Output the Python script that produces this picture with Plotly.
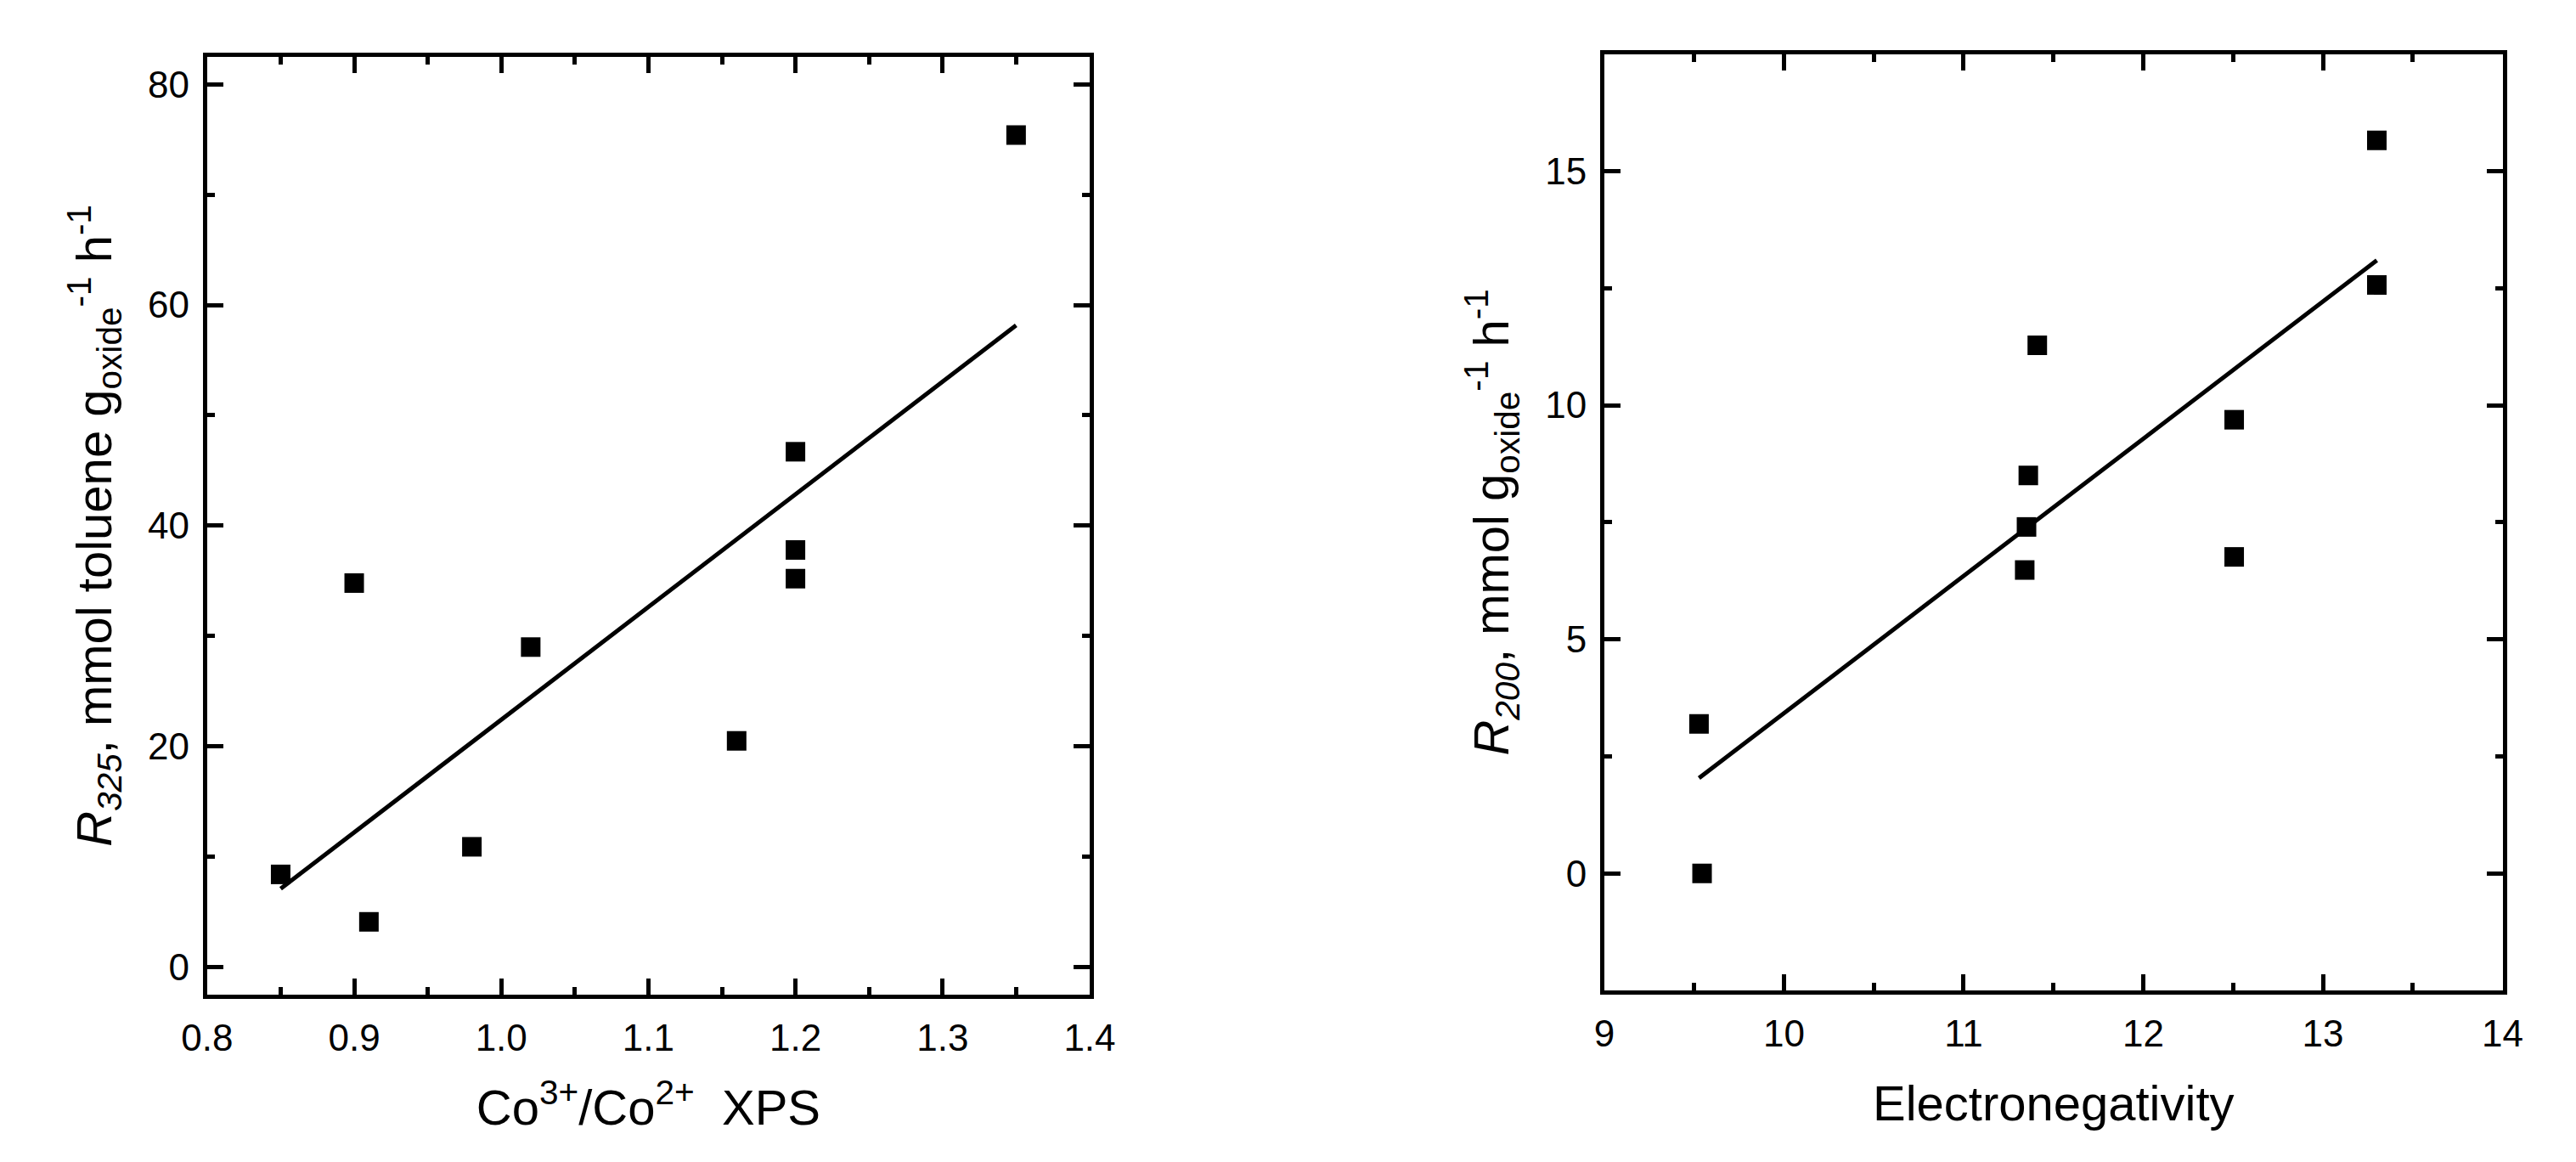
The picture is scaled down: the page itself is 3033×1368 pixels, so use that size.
import numpy as np
import plotly.graph_objects as go

# Left panel: Co3+/Co2+ (XPS) vs R325
co_ratio = [0.85, 0.90, 0.91, 0.98, 1.02, 1.16, 1.20, 1.20, 1.20, 1.35]
r325 = [8.4, 34.8, 4.1, 10.9, 29.0, 20.5, 46.7, 37.8, 35.2, 75.4]

# Right panel: Electronegativity vs R200
electroneg = [9.527, 9.544, 11.34, 11.35, 11.36, 11.41, 12.506, 12.506, 13.30, 13.30]
r200 = [3.19, 0.0, 6.48, 7.40, 8.50, 11.28, 6.76, 9.69, 15.66, 12.57]

left_xticks = [0.8, 0.9, 1.0, 1.1, 1.2, 1.3, 1.4]
left_xlabels = ["0.8", "0.9", "1.0", "1.1", "1.2", "1.3", "1.4"]
left_yticks = [0, 20, 40, 60, 80]
right_xticks = [9, 10, 11, 12, 13, 14]
right_yticks = [0, 5, 10, 15]

FONT = "Arial, Liberation Sans, Helvetica, sans-serif"


def fit_line(x, y):
    x = np.asarray(x, float)
    y = np.asarray(y, float)
    k, b = np.polyfit(x, y, 1)
    xs = np.array([x.min(), x.max()])
    return xs, k * xs + b


fig = go.Figure()

lx, ly = fit_line(co_ratio, r325)
fig.add_trace(go.Scatter(x=lx, y=ly, mode="lines", line=dict(color="black", width=5),
                         xaxis="x", yaxis="y", showlegend=False, hoverinfo="skip"))
fig.add_trace(go.Scatter(x=co_ratio, y=r325, mode="markers",
                         marker=dict(symbol="square", size=23, color="black", line=dict(width=0)),
                         xaxis="x", yaxis="y", showlegend=False))

rx, ry = fit_line(electroneg, r200)
fig.add_trace(go.Scatter(x=rx, y=ry, mode="lines", line=dict(color="black", width=5),
                         xaxis="x2", yaxis="y2", showlegend=False, hoverinfo="skip"))
fig.add_trace(go.Scatter(x=electroneg, y=r200, mode="markers",
                         marker=dict(symbol="square", size=23, color="black", line=dict(width=0)),
                         xaxis="x2", yaxis="y2", showlegend=False))

common = dict(
    showline=True, linecolor="black", linewidth=5, mirror="ticks",
    ticks="inside", ticklen=19, tickwidth=4.5, tickcolor="black",
    showgrid=False, zeroline=False, automargin=False,
    tickfont=dict(family=FONT, size=44, color="black"),
)
minor_common = dict(ticks="inside", ticklen=9, tickwidth=4.5, tickcolor="black")

fig.update_layout(
    width=3033, height=1368,
    margin=dict(l=0, r=0, t=0, b=0),
    paper_bgcolor="white", plot_bgcolor="white",
    font=dict(family=FONT, color="black"),
    xaxis=dict(
        **common, domain=[0.0804, 0.4230], anchor="y",
        range=[0.8, 1.4], tickvals=left_xticks, ticktext=left_xlabels,
        minor=dict(**minor_common, dtick=0.05, tick0=0.8),
        ticklabelstandoff=8,
        title=dict(text="Co<sup>3+</sup>/Co<sup>2+</sup>  XPS", font=dict(family=FONT, size=58), standoff=40),
    ),
    yaxis=dict(
        **common, domain=[0.1440, 0.9512], anchor="x",
        range=[-2.5, 82.5], tickvals=left_yticks,
        minor=dict(**minor_common, dtick=10, tick0=0),
        ticklabelstandoff=7,
        title=dict(text="<i>R</i><sub><i>325</i></sub>, mmol toluene g<sub>oxide</sub><sup>-1</sup> h<sup>-1</sup>",
                   font=dict(family=FONT, size=58), standoff=25),
    ),
    xaxis2=dict(
        **common, domain=[0.6228, 0.9715], anchor="y2",
        range=[9, 14], tickvals=right_xticks,
        minor=dict(**minor_common, dtick=0.5, tick0=9),
        ticklabelstandoff=8,
        title=dict(text="Electronegativity", font=dict(family=FONT, size=58), standoff=40),
    ),
    yaxis2=dict(
        **common, domain=[0.1477, 0.9534], anchor="x2",
        range=[-2.5, 17.5], tickvals=right_yticks,
        minor=dict(**minor_common, dtick=2.5, tick0=0),
        ticklabelstandoff=7,
        title=dict(text="<i>R</i><sub><i>200</i></sub>, mmol g<sub>oxide</sub><sup>-1</sup> h<sup>-1</sup>",
                   font=dict(family=FONT, size=58), standoff=25),
    ),
)

fig.write_html("out.html", config={"displayModeBar": False},
               post_script="document.body.style.margin='0';")
